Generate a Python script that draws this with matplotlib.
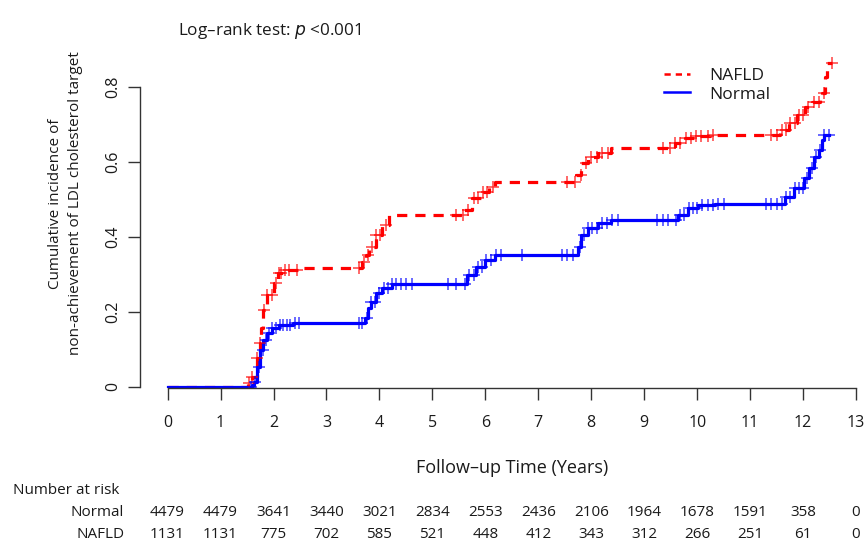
"""Cumulative incidence of non-achievement of LDL target: NAFLD vs Normal"""
import numpy as np
import matplotlib
matplotlib.use("Agg")
import matplotlib.pyplot as plt
from matplotlib.lines import Line2D
from matplotlib.transforms import blended_transform_factory

plt.rcParams['font.family'] = ['Open Sans', 'DejaVu Sans']

# Step curve points (time in years, cumulative incidence)
NAFLD_T = [0, 1.51, 1.59, 1.68, 1.74, 1.76, 1.81, 1.87, 2.00, 2.08, 2.21, 2.49,
           3.67, 3.75, 3.81, 3.94, 4.05, 4.18,
           5.59, 5.74, 5.91, 6.06, 6.19,
           7.72, 7.81, 7.94, 8.13, 8.37,
           9.58, 9.77, 9.95, 10.25,
           11.57, 11.74, 11.89, 12.04, 12.17, 12.32, 12.36, 12.41, 12.45, 12.55]
NAFLD_Y = [0, 0.011, 0.027, 0.077, 0.117, 0.157, 0.205, 0.245, 0.277, 0.304, 0.312, 0.317,
           0.333, 0.352, 0.373, 0.405, 0.432, 0.459,
           0.472, 0.504, 0.520, 0.533, 0.547,
           0.565, 0.597, 0.613, 0.624, 0.637,
           0.651, 0.664, 0.669, 0.672,
           0.685, 0.704, 0.725, 0.747, 0.760, 0.765, 0.784, 0.827, 0.864, 0.864]

NORMAL_T = [0, 1.59, 1.64, 1.68, 1.74, 1.81, 1.87, 1.98, 2.11, 2.36,
            3.72, 3.78, 3.84, 3.94, 4.05, 4.24,
            5.65, 5.82, 6.00, 6.19,
            7.75, 7.81, 7.94, 8.13, 8.37,
            9.63, 9.82, 10.01, 10.33,
            11.65, 11.83, 12.02, 12.11, 12.21, 12.30, 12.36, 12.40, 12.48]
NORMAL_Y = [0, 0.004, 0.013, 0.053, 0.099, 0.125, 0.144, 0.157, 0.165, 0.171,
            0.184, 0.211, 0.227, 0.251, 0.264, 0.275,
            0.299, 0.320, 0.339, 0.352,
            0.373, 0.405, 0.424, 0.437, 0.444,
            0.459, 0.477, 0.485, 0.489,
            0.507, 0.531, 0.557, 0.584, 0.613, 0.632, 0.659, 0.672, 0.672]

# Censoring times
NAFLD_CENS = [1.53, 1.60, 1.69, 1.75, 1.82, 1.88, 1.98, 2.04, 2.10, 2.15, 2.22, 2.30, 2.45,
              3.62, 3.70, 3.78, 3.86, 3.94, 4.02, 4.12,
              5.45, 5.58, 5.68, 5.78, 5.86, 5.95, 6.04, 6.14,
              7.55, 7.70, 7.80, 7.90, 8.00, 8.10, 8.20, 8.32,
              9.35, 9.48, 9.58, 9.68, 9.78, 9.88, 9.98, 10.08, 10.20, 10.30,
              11.40, 11.50, 11.60, 11.68, 11.76, 11.84, 11.92, 12.00, 12.10, 12.20,
              12.30, 12.40, 12.55]
NORMAL_CENS = [1.58, 1.65, 1.72, 1.80, 1.86, 1.92, 1.98, 2.05, 2.12, 2.18, 2.25, 2.32, 2.40, 2.48,
               3.62, 3.68, 3.76, 3.84, 3.92, 4.00, 4.08, 4.16, 4.24, 4.32, 4.40, 4.50, 4.62,
               5.30, 5.45, 5.62, 5.70, 5.78, 5.86, 5.94, 6.02, 6.10, 6.20, 6.30, 6.70,
               7.45, 7.55, 7.65, 7.78, 7.86, 7.94, 8.02, 8.10, 8.20, 8.30, 8.40, 8.50,
               9.25, 9.35, 9.45, 9.60, 9.68, 9.76, 9.84, 9.92, 10.00, 10.10, 10.20, 10.30,
               10.40, 10.50,
               11.30, 11.40, 11.50, 11.60, 11.68, 11.76, 11.84, 11.92, 12.00, 12.08, 12.16,
               12.24, 12.32, 12.40, 12.48]

RISK_TIMES = list(range(14))
RISK_NORMAL = [4479, 4479, 3641, 3440, 3021, 2834, 2553, 2436, 2106, 1964, 1678, 1591, 358, 0]
RISK_NAFLD = [1131, 1131, 775, 702, 585, 521, 448, 412, 343, 312, 266, 251, 61, 0]

RED = '#ff0000'
BLUE = '#0000ff'
TXT = '#1a1a1a'
AX = '#333333'


def step_value(t_pts, y_pts, t):
    idx = np.searchsorted(t_pts, t, side='right') - 1
    return np.asarray(y_pts)[idx]


if __name__ == "__main__":
    fig = plt.figure(figsize=(8.66, 5.42), dpi=100)
    ax = fig.add_axes([140 / 866, (542 - 388) / 542, 724 / 866, 355 / 542])
    ax.set_xlim(-0.521, 13.15)
    ax.set_ylim(-0.003, 0.944)

    # curves
    ax.step(NAFLD_T, NAFLD_Y, where='post', color=RED, lw=2.3, dashes=(3.2, 2.5))
    ax.step(NORMAL_T, NORMAL_Y, where='post', color=BLUE, lw=2.3)
    ax.plot(NAFLD_CENS, step_value(NAFLD_T, NAFLD_Y, NAFLD_CENS), ls='none',
            marker='+', ms=8.5, mew=1.1, color=RED, alpha=0.75)
    ax.plot(NORMAL_CENS, step_value(NORMAL_T, NORMAL_Y, NORMAL_CENS), ls='none',
            marker='+', ms=8.5, mew=1.1, color=BLUE, alpha=0.75)

    # axes in R style
    for s in ['top', 'right']:
        ax.spines[s].set_visible(False)
    ax.spines['left'].set_bounds(0, 0.8)
    ax.spines['bottom'].set_bounds(0, 13)
    for s in ['left', 'bottom']:
        ax.spines[s].set_color(AX)
        ax.spines[s].set_linewidth(1.0)
    ax.set_xticks(RISK_TIMES)
    ax.set_yticks([0, 0.2, 0.4, 0.6, 0.8])
    ax.set_yticklabels(['0', '0.2', '0.4', '0.6', '0.8'], rotation=90, va='center')
    ax.tick_params(axis='both', length=8.6, width=1.0, color=AX, labelsize=11.5,
                   labelcolor=TXT)
    ax.tick_params(axis='x', pad=11)
    ax.tick_params(axis='y', pad=5)

    ax.set_ylabel('Cumulative incidence of\nnon-achievement of LDL cholesterol target',
                  fontsize=11, color=TXT, linespacing=1.45)
    ax.yaxis.set_label_coords(-0.079, 0.52)
    fig.text(512 / 866, 1 - 468 / 542, 'Follow\u2013up Time (Years)', ha='center',
             va='center', fontsize=13, color=TXT)

    fig.text(178 / 866, 1 - 31 / 542, 'Log\u2013rank test: $\\it{p}$ <0.001',
             ha='left', va='center', fontsize=12.3, color=TXT)

    handles = [Line2D([], [], color=RED, lw=1.8, dashes=(2.5, 2.0)),
               Line2D([], [], color=BLUE, lw=1.8)]
    fig.legend(handles, ['NAFLD', 'Normal'], loc='upper left',
               bbox_to_anchor=(648 / 866, 1 - 52 / 542), frameon=False,
               fontsize=12.5, handlelength=1.5, handletextpad=1.1,
               labelspacing=0.15, labelcolor=TXT)

    # number at risk table
    tr = blended_transform_factory(ax.transData, fig.transFigure)
    fig.text(13 / 866, 1 - 490 / 542, 'Number at risk', ha='left', va='center',
             fontsize=11, color=TXT)
    fig.text(124 / 866, 1 - 513 / 542, 'Normal', ha='right', va='center',
             fontsize=11, color=TXT)
    fig.text(125 / 866, 1 - 535 / 542, 'NAFLD', ha='right', va='center',
             fontsize=11, color=TXT)
    for t, n1, n2 in zip(RISK_TIMES, RISK_NORMAL, RISK_NAFLD):
        ax.text(t, 1 - 513 / 542, str(n1), transform=tr, ha='center', va='center',
                fontsize=11, color=TXT)
        ax.text(t, 1 - 535 / 542, str(n2), transform=tr, ha='center', va='center',
                fontsize=11, color=TXT)

    fig.savefig("out.png", dpi=100)
